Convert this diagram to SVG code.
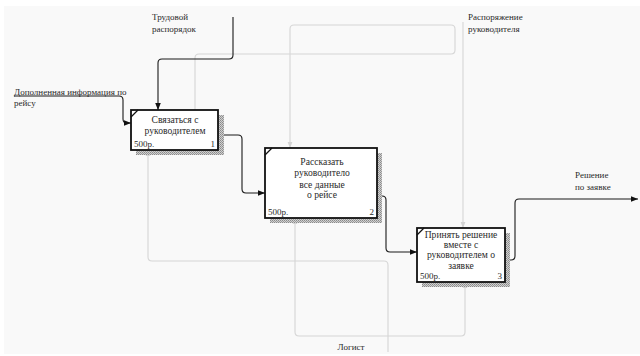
<svg xmlns="http://www.w3.org/2000/svg" width="640" height="356" viewBox="0 0 640 356">
  <defs>
    <pattern id="hatch" width="2" height="2" patternUnits="userSpaceOnUse">
      <rect width="2" height="2" fill="#d0d0d0"/>
      <rect width="1" height="1" fill="#8a8a8a"/>
      <rect x="1" y="1" width="1" height="1" fill="#9a9a9a"/>
    </pattern>
    <marker id="arr" viewBox="0 0 10 10" refX="10" refY="5" markerWidth="7" markerHeight="7" markerUnits="userSpaceOnUse" orient="auto">
      <path d="M0,1 L10,5 L0,9 Z" fill="#111"/>
    </marker>
    <marker id="arrLight" viewBox="0 0 10 10" refX="10" refY="5" markerWidth="6" markerHeight="6" markerUnits="userSpaceOnUse" orient="auto">
      <path d="M0,1 L10,5 L0,9 Z" fill="#d4d4d4"/>
    </marker>
  </defs>
  <style>
    .lbl { font-family: "Liberation Serif", "DejaVu Serif", serif; font-size: 9px; fill: #2a2a2a; }
    .in { font-size: 9.6px; }
    .box { fill: #ffffff; stroke: #111; stroke-width: 1.8; }
    .shadow { fill: url(#hatch); }
    .corner { fill: none; stroke: #111; stroke-width: 1.2; }
    .flow { fill: none; stroke: #1a1a1a; stroke-width: 1.1; }
    .faint { fill: none; stroke: #d6d6d6; stroke-width: 1.1; }
    .mid { text-anchor: middle; }
    .end { text-anchor: end; }
  </style>

  <rect x="4" y="6" width="636" height="348" fill="#f9f9f9"/>

  <!-- connectors -->
  <g id="connectors">
    <!-- light control / mechanism lines -->
    <path class="faint" d="M195,110 V58 Q195,54 199,54 H451 Q455,54 455,50 V29 Q455,25 451,25 H294 Q290,25 290,29 V148" marker-end="url(#arrLight)"/>
    <path class="faint" d="M463,22 V228" marker-end="url(#arrLight)"/>
    <path class="faint" d="M388,352 V265 Q388,261 384,261 H152 Q148,261 148,257 V150" marker-end="url(#arrLight)"/>
    <path class="faint" d="M388,336 H461 Q465,336 465,332 V282" marker-end="url(#arrLight)"/>
    <path class="faint" d="M388,336 H299 Q295,336 295,332 V218" marker-end="url(#arrLight)"/>

    <!-- dark flow lines -->
    <path class="flow" d="M233,17 V55 Q233,59 229,59 H162 Q158,59 158,63 V110" marker-end="url(#arr)"/>
    <path class="flow" d="M14,96 H119 Q123,96 123,100 V119 Q123,123 127,123 H131" marker-end="url(#arr)"/>
    <path class="flow" d="M218,135 H238 Q242,135 242,139 V189 Q242,193 246,193 H265" marker-end="url(#arr)"/>
    <path class="flow" d="M377,196 H382 Q386,196 386,200 V248 Q386,252 390,252 H417" marker-end="url(#arr)"/>
    <path class="flow" d="M505,260 H511 Q515,260 515,256 V203 Q515,199 519,199 H638" marker-end="url(#arr)"/>
  </g>

  <!-- connector labels -->
  <g id="labels">
    <text class="lbl" x="152" y="19.5">Трудовой</text>
    <text class="lbl" x="152" y="31.5">распорядок</text>
    <text class="lbl" x="468" y="19.5">Распоряжение</text>
    <text class="lbl" x="468" y="31.5">руководителя</text>
    <text class="lbl" x="14" y="94.5">Дополненная информация по</text>
    <text class="lbl" x="14" y="106">рейсу</text>
    <text class="lbl" x="575" y="178">Решение</text>
    <text class="lbl" x="575" y="189.5">по заявке</text>
    <text class="lbl mid" x="351" y="349.5">Логист</text>
  </g>

  <!-- activity 1 -->
  <g id="node1">
    <rect class="shadow" x="136" y="115" width="88" height="40"/>
    <rect class="box" x="131" y="110" width="87" height="40"/>
    <path class="corner" d="M131,117 L138,110"/>
    <text class="lbl in mid" x="175" y="122.5">Связаться с</text>
    <text class="lbl in mid" x="175" y="134">руководителем</text>
    <text class="lbl" x="134" y="147">500р.</text>
    <text class="lbl end" x="215" y="147">1</text>
  </g>

  <!-- activity 2 -->
  <g id="node2">
    <rect class="shadow" x="270" y="153" width="112" height="70"/>
    <rect class="box" x="265" y="148" width="112" height="70"/>
    <path class="corner" d="M265,155 L272,148"/>
    <text class="lbl in mid" x="322" y="164.5">Рассказать</text>
    <text class="lbl in mid" x="322" y="176">руководитело</text>
    <text class="lbl in mid" x="322" y="187.5">все данные</text>
    <text class="lbl in mid" x="322" y="198">о рейсе</text>
    <text class="lbl" x="268" y="214.5">500р.</text>
    <text class="lbl end" x="374" y="214.5">2</text>
  </g>

  <!-- activity 3 -->
  <g id="node3">
    <rect class="shadow" x="422" y="233" width="88" height="54"/>
    <rect class="box" x="417" y="228" width="88" height="54"/>
    <path class="corner" d="M417,235 L424,228"/>
    <text class="lbl in mid" x="461" y="237.5">Принять решение</text>
    <text class="lbl in mid" x="461" y="247.5">вместе с</text>
    <text class="lbl in mid" x="461" y="258">руководителем о</text>
    <text class="lbl in mid" x="461" y="268.5">заявке</text>
    <text class="lbl" x="420" y="278.5">500р.</text>
    <text class="lbl end" x="502" y="278.5">3</text>
  </g>
</svg>
